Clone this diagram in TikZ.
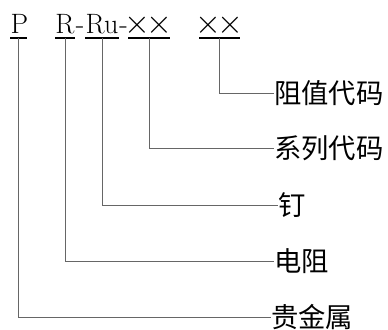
\documentclass[tikz,border=0pt]{standalone}
\usepackage{fontspec}
\newfontfamily\cjk{Noto Sans CJK SC}
\begin{document}
\begin{tikzpicture}[x=0.75pt,y=-0.75pt,
  code/.style={inner sep=0pt,anchor=base,font=\fontsize{21pt}{23pt}\selectfont},
  lab/.style={inner sep=0pt,anchor=west,font=\cjk\fontsize{20.5pt}{22pt}\selectfont},
  uline/.style={line width=0.9pt,black},
  conn/.style={line width=0.75pt,black!60}]
\useasboundingbox (0,0) rectangle (388,329);
% codes
\node[code] (p) at (19.5,33) {P};
\node[code] (r) at (65,33) {R};
\node[code] (h1) at (80,33) {-};
\node[code] (ru) at (102,33) {Ru};
\node[code] (h2) at (123.5,33) {-};
\node[code] (x1) at (148.5,33) {\scalebox{1.2}{$\times\mkern-2mu\times$}};
\node[code] (x2) at (219,33) {\scalebox{1.2}{$\times\mkern-2mu\times$}};
% underlines
\draw[uline] (10,38) -- (27,38);
\draw[uline] (55,38) -- (75,38);
\draw[uline] (85,38) -- (119,38);
\draw[uline] (128,38) -- (170,38);
\draw[uline] (199,38) -- (240,38);
% connector starts
\coordinate (cp) at (18,38);
\coordinate (cr) at (65,38);
\coordinate (cru) at (102,38);
\coordinate (cx1) at (149,38);
\coordinate (cx2) at (219,38);
% labels
\node[lab] (l1) at (274,93) {阻值代码};
\node[lab] (l2) at (274,148) {系列代码};
\node[lab] (l3) at (278,205) {钉};
\node[lab] (l4) at (274,261) {电阻};
\node[lab] (l5) at (271,317) {贵金属};
% connectors
\draw[conn] (cx2) |- (l1.west);
\draw[conn] (cx1) |- (l2.west);
\draw[conn] (cru) |- (l3.west);
\draw[conn] (cr) |- (l4.west);
\draw[conn] (cp) |- (l5.west);
\end{tikzpicture}
\end{document}
